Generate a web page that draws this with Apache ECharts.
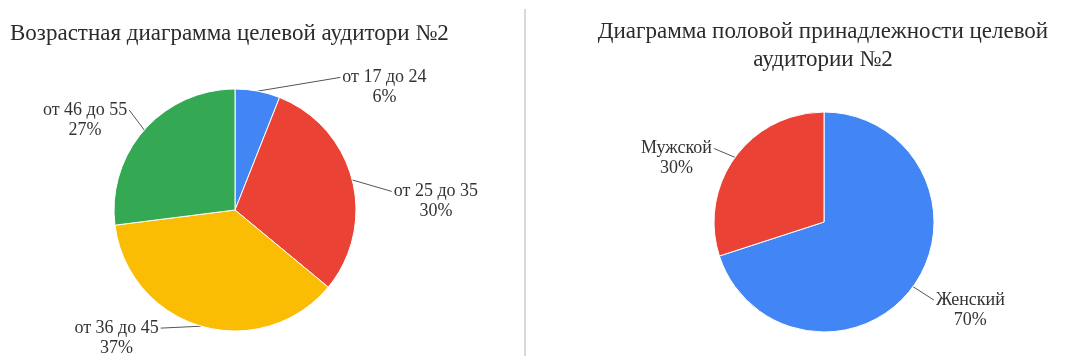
<!DOCTYPE html>
<html>
<head>
<meta charset="utf-8">
<script src="https://cdn.jsdelivr.net/npm/echarts@6/dist/echarts.min.js"></script>
<style>
  html, body { margin: 0; padding: 0; background: #fff; }
  #chart { width: 1067px; height: 359px; }
</style>
</head>
<body>
<div id="chart"></div>
<script>
// Age groups of target audience #2 (percent)
const ageCategories = ['от 17 до 24', 'от 25 до 35', 'от 36 до 45', 'от 46 до 55'];
const ageValues = [6, 30, 37, 27];

// Gender split of target audience #2 (percent)
const genderCategories = ['Женский', 'Мужской'];
const genderValues = [70, 30];

const ageTitle = 'Возрастная диаграмма целевой аудитори №2';
const genderTitle = 'Диаграмма половой принадлежности целевой\nаудитории №2';

const ageColors = ['#4285F4', '#EA4335', '#FBBC04', '#34A853'];
const genderColors = ['#4285F4', '#EA4335'];

const FONT = '"Liberation Serif", "DejaVu Serif", serif';
const LINE_H = 20;

// per-slice leader line lengths [radial, horizontal]
const ageLines = [[14, 80], [14, 22], [2, 40], [24, 3]];
const genderLines = [[16, 8], [10, 13]];

// small nudges of the label boxes [dx, dy]
const ageNudge = [[0, 0], [4, 15], [0, 0], [6, -4]];
const genderNudge = [[0, 4], [0, -3]];

function pieData(names, values, colors, lines) {
  return names.map((n, i) => ({
    name: n,
    value: values[i],
    itemStyle: { color: colors[i] },
    labelLine: { length: lines[i][0], length2: lines[i][1] }
  }));
}

// shift each label and draw its leader as one straight segment
// from the slice edge to the (shifted) label end
function nudger(table) {
  return function (p) {
    const d = table[p.dataIndex];
    const out = { dx: d[0], dy: d[1] };
    const pts = p.labelLinePoints;
    if (pts && pts.length === 3) {
      const end = [pts[2][0] + d[0], pts[2][1] + d[1]];
      out.labelLinePoints = [pts[0], end, end];
    }
    return out;
  };
}

// two centred lines: name and percent; the leader line meets the first line
const labelStyle = {
  show: true,
  position: 'outside',
  formatter: '{c|{b}}\n{c|{d}%}',
  rich: {
    c: {
      align: 'center',
      fontFamily: FONT,
      fontSize: 18,
      color: '#333',
      lineHeight: LINE_H
    }
  },
  fontFamily: FONT,
  fontSize: 18,
  color: '#333',
  lineHeight: LINE_H,
  padding: [LINE_H, 0, 0, 0],
  distanceToLabelLine: 2
};

const lineStyle = { show: true, smooth: false, lineStyle: { color: '#555', width: 1 } };

const chart = echarts.init(document.getElementById('chart'), null, { renderer: 'canvas' });
chart.setOption({
  backgroundColor: '#fff',
  animation: false,
  title: [
    {
      text: ageTitle,
      left: 5, top: 17,
      textStyle: { fontFamily: FONT, fontSize: 23, fontWeight: 'normal', color: '#2b2b2b' }
    },
    {
      text: genderTitle,
      left: 818, top: 13,
      textAlign: 'center',
      textStyle: { fontFamily: FONT, fontSize: 23, fontWeight: 'normal', color: '#2b2b2b', lineHeight: 28, align: 'center' }
    }
  ],
  graphic: [{
    type: 'line',
    shape: { x1: 525, y1: 9, x2: 525, y2: 356 },
    style: { stroke: '#d9d9d9', lineWidth: 2 }
  }],
  series: [
    {
      type: 'pie',
      center: [235, 210],
      radius: 121,
      startAngle: 90,
      clockwise: true,
      avoidLabelOverlap: false,
      itemStyle: { borderColor: '#fff', borderWidth: 1 },
      label: labelStyle,
      labelLine: lineStyle,
      labelLayout: nudger(ageNudge),
      data: pieData(ageCategories, ageValues, ageColors, ageLines)
    },
    {
      type: 'pie',
      center: [824, 222],
      radius: 110,
      startAngle: 90,
      clockwise: true,
      avoidLabelOverlap: false,
      itemStyle: { borderColor: '#fff', borderWidth: 1 },
      label: labelStyle,
      labelLine: lineStyle,
      labelLayout: nudger(genderNudge),
      data: pieData(genderCategories, genderValues, genderColors, genderLines)
    }
  ]
});
</script>
</body>
</html>
